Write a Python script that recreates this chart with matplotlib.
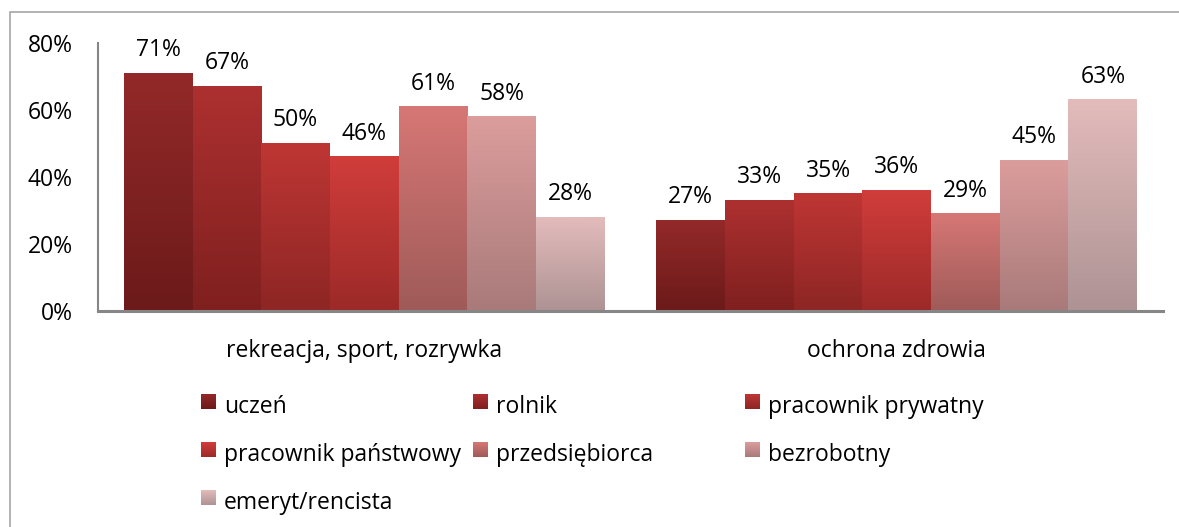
import numpy as np
import matplotlib
matplotlib.use("Agg")
import matplotlib.pyplot as plt
from matplotlib.patches import Rectangle
from matplotlib.colors import to_rgb

plt.rcParams['font.family'] = ['Open Sans', 'DejaVu Sans']

# dane
kategorie = ['rekreacja, sport, rozrywka', 'ochrona zdrowia']
serie = ['uczeń', 'rolnik', 'pracownik prywatny', 'pracownik państwowy',
         'przedsiębiorca', 'bezrobotny', 'emeryt/rencista']
uczen = [71, 27]
rolnik = [67, 33]
prywatny = [50, 35]
panstwowy = [46, 36]
przedsiebiorca = [61, 29]
bezrobotny = [58, 45]
emeryt = [28, 63]
wartosci = [uczen, rolnik, prywatny, panstwowy, przedsiebiorca, bezrobotny, emeryt]

# kolory gradientu (gora, dol)
kolory = [('#932929', '#6c1a1a'), ('#ad3030', '#7f201f'), ('#be3634', '#8d2624'),
          ('#d03d3b', '#9c2a28'), ('#d67775', '#9f5b59'), ('#db9d9c', '#a97a7a'),
          ('#e3bbbb', '#ae9394')]


def gradient(top, bottom, n=64):
    t = np.linspace(0, 1, n)[:, None]
    a = np.array(to_rgb(bottom))
    b = np.array(to_rgb(top))
    return (a + (b - a) * t)[:, None, :]


W, H = 1179, 527
fig = plt.figure(figsize=(W / 100, H / 100), dpi=100)

# ramka wykresu
fig.patches.append(Rectangle((10 / W, -0.1), 2, 1.1 - 12 / H, transform=fig.transFigure,
                             fill=False, edgecolor='#a6a6a6', linewidth=1.2))

ax = fig.add_axes([98 / W, 1 - 311 / H, (1163 - 98) / W, (311 - 43) / H])

x = np.arange(len(kategorie))
n = len(serie)
w = 0.903 / n
for i, (vals, (top, bot)) in enumerate(zip(wartosci, kolory)):
    pos = x + (i - (n - 1) / 2) * w
    v = np.array(vals) / 100
    bars = ax.bar(pos, v, w, color='none', linewidth=0)
    for b in bars:
        x0, h = b.get_x(), b.get_height()
        ax.imshow(gradient(top, bot), extent=[x0, x0 + w, 0, h], origin='lower',
                  aspect='auto', zorder=2, interpolation='bilinear')
    for p, val in zip(pos, vals):
        ax.annotate(f'{val}%', (p, val / 100), xytext=(0, 8), textcoords='offset points',
                    ha='center', va='bottom', fontsize=16.5, color='black')

ax.set_xlim(-0.5, 1.5)
ax.set_ylim(0, 0.8)
ax.set_yticks([0, 0.2, 0.4, 0.6, 0.8])
ax.set_yticklabels(['0%', '20%', '40%', '60%', '80%'], fontsize=16.5)
ax.set_xticks(x)
ax.set_xticklabels(kategorie, fontsize=16.5)
ax.tick_params(axis='y', length=0, pad=18)
ax.tick_params(axis='x', length=0, pad=20)
for s in ['top', 'right']:
    ax.spines[s].set_visible(False)
ax.spines['left'].set_color('#868686')
ax.spines['left'].set_linewidth(1.5)
ax.spines['bottom'].set_color('#868686')
ax.spines['bottom'].set_linewidth(2.2)

# legenda
kol_x = [201, 473, 745]
wiersz_y = [394, 442, 490]
for i, nazwa in enumerate(serie):
    cx = kol_x[i % 3]
    cy = wiersz_y[i // 3]
    lax = fig.add_axes([cx / W, 1 - (cy + 15) / H, 15 / W, 15 / H])
    lax.imshow(gradient(*kolory[i]), origin='lower', aspect='auto', extent=[0, 1, 0, 1])
    lax.set_axis_off()
    fig.text((cx + 23) / W, 1 - (cy + 19) / H, nazwa, fontsize=16.5, va='baseline', ha='left')

fig.savefig('out.png', dpi=100)
